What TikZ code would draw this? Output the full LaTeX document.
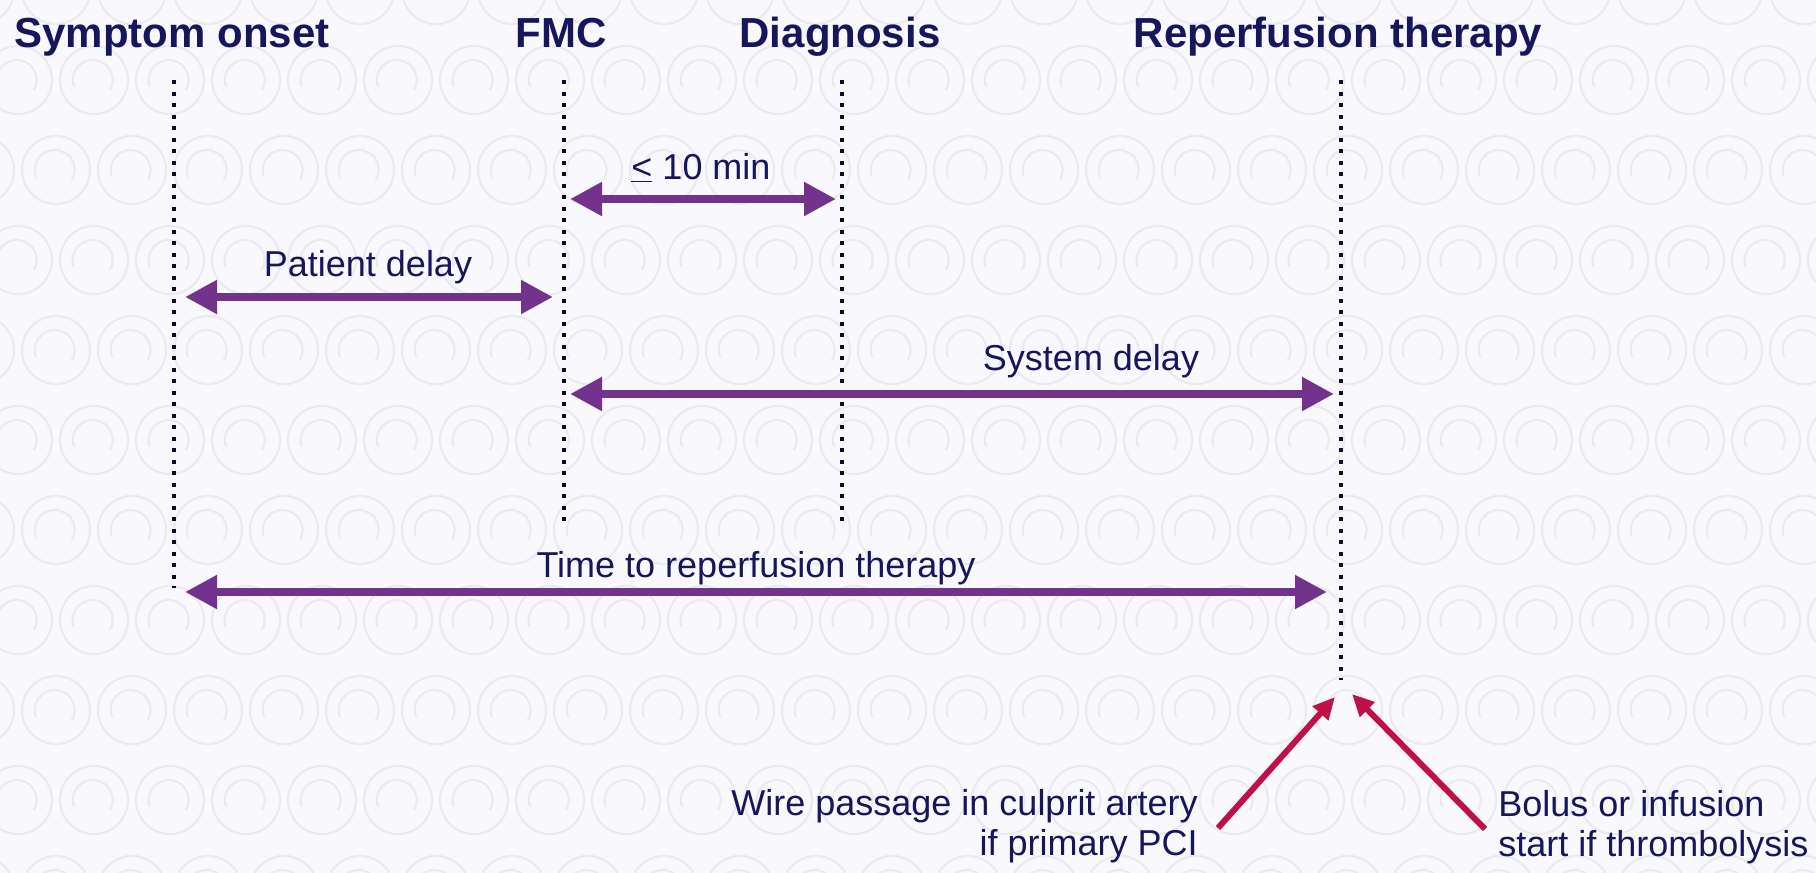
\documentclass[tikz,border=0pt]{standalone}
\usepackage{fontspec}
\setmainfont{Liberation Sans}
\usetikzlibrary{arrows.meta}
\definecolor{bgc}{RGB}{249,248,252}
\definecolor{patc}{RGB}{236,234,241}
\definecolor{txt}{RGB}{22,22,92}
\definecolor{purp}{RGB}{115,50,140}
\definecolor{crim}{RGB}{192,16,72}
\definecolor{dotc}{RGB}{12,12,40}
\begin{document}
\begin{tikzpicture}[x=0.5pt,y=-0.5pt,
  title/.style={font=\fontsize{21pt}{25pt}\selectfont\bfseries, text=txt, inner sep=0pt, anchor=base},
  lbl/.style={font=\fontsize{18pt}{20pt}\selectfont, text=txt, inner sep=0pt, anchor=base},
  timeline/.style={draw=dotc, line width=2pt, dash pattern=on 2pt off 3.75pt},
  span/.style={draw=purp, line width=4pt, {Triangle[length=16pt,width=16pt]}-{Triangle[length=16pt,width=16pt]}},
  pointer/.style={draw=crim, line width=3pt, -{Triangle[length=11pt,width=10pt]}},
  patt/.style={draw=patc, line width=1.1pt},
]
\fill[bgc] (0,0) rectangle (1816,873);
\useasboundingbox (0,0) rectangle (1816,873);
% faint background pattern
\begin{scope}
\clip (0,0) rectangle (1816,873);
\foreach \j in {0,...,10} {
  \foreach \i in {0,...,24} {
    \pgfmathsetmacro\cx{\i*76 + mod(\j,2)*38 - 20}
    \pgfmathsetmacro\cy{\j*90 - 10}
    \draw[patt] (\cx,\cy) circle[radius=17pt];
    \draw[patt] (\cx+16,\cy+10) arc[start angle=-30, end angle=200, radius=10pt];
  }
}
\end{scope}

% titles
\node[title] (tso) at (172,47) {Symptom onset};
\node[title] (tfmc) at (561,47) {FMC};
\node[title] (tdx) at (840,47) {Diagnosis};
\node[title] (trp) at (1338,47) {Reperfusion therapy};

% timeline ends
\coordinate (so1) at (174,80);  \coordinate (so2) at (174,588);
\coordinate (fm1) at (564,80);  \coordinate (fm2) at (564,523);
\coordinate (dx1) at (842,80);  \coordinate (dx2) at (842,523);
\coordinate (rp1) at (1341,80); \coordinate (rp2) at (1341,680);
\draw[timeline] (so1) -- (so2);
\draw[timeline] (fm1) -- (fm2);
\draw[timeline] (dx1) -- (dx2);
\draw[timeline] (rp1) -- (rp2);

% spans
\coordinate (a1) at (570,199);  \coordinate (a2) at (836,199);
\coordinate (p1) at (185,297);  \coordinate (p2) at (553,297);
\coordinate (s1) at (570,394);  \coordinate (s2) at (1334,394);
\coordinate (t1) at (185,592);  \coordinate (t2) at (1327,592);
\draw[span] (a1) -- (a2);
\draw[span] (p1) -- (p2);
\draw[span] (s1) -- (s2);
\draw[span] (t1) -- (t2);
\node[lbl] (l10) at (701,179) {\underline{<} 10 min};
\node[lbl] (lpd) at (368,276) {Patient delay};
\node[lbl] (lsd) at (1091,370) {System delay};
\node[lbl] (ltt) at (756,577) {Time to reperfusion therapy};

% bottom notes
\node[lbl, anchor=base east, align=right] (wire) at (1198,855) {Wire passage in culprit artery\\if primary PCI};
\node[lbl, anchor=base west, align=left] (bolus) at (1498,856) {Bolus or infusion\\start if thrombolysis};
\coordinate (w1) at (1218,828); \coordinate (w2) at (1335,697);
\coordinate (b1) at (1485,829); \coordinate (b2) at (1352,694);
\draw[pointer] (w1) -- (w2);
\draw[pointer] (b1) -- (b2);
\end{tikzpicture}
\end{document}
